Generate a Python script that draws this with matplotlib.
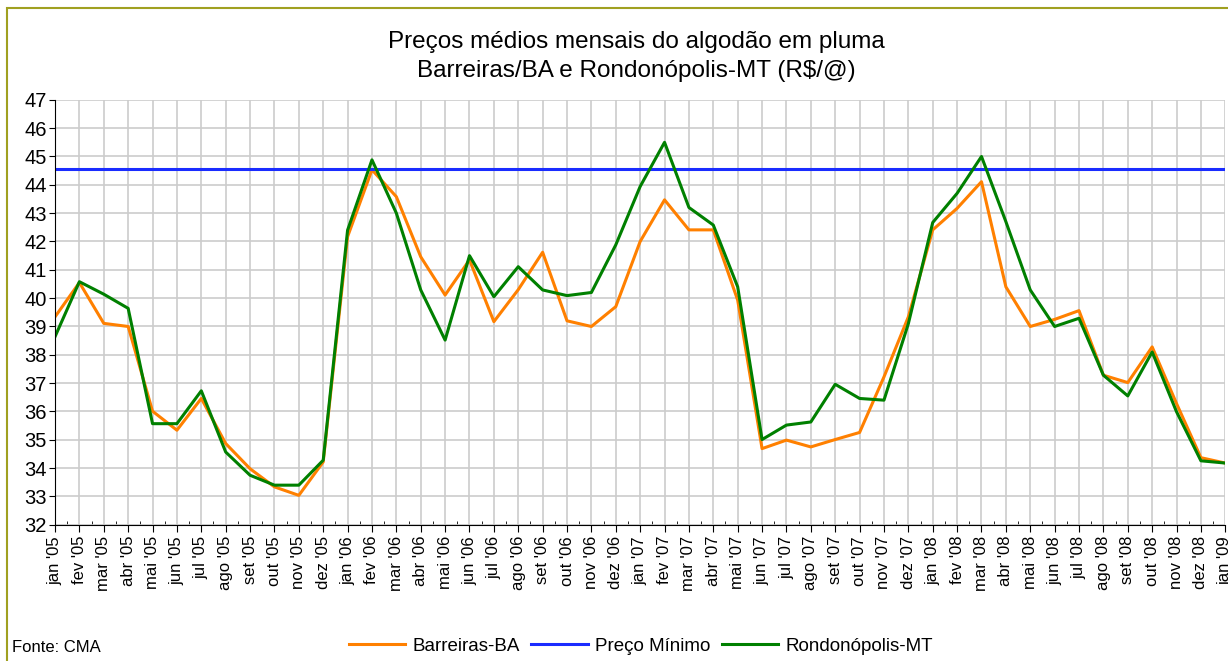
import numpy as np
import matplotlib.pyplot as plt
from matplotlib.patches import Rectangle

plt.rcParams['font.family'] = ['Liberation Sans', 'DejaVu Sans']

meses = ['jan', 'fev', 'mar', 'abr', 'mai', 'jun', 'jul', 'ago', 'set', 'out', 'nov', 'dez']
labels = [f"{m} '{a:02d}" for a in range(5, 9) for m in meses] + ["jan '09"]

barreiras = [39.34, 40.55, 39.11, 39.0, 36.01, 35.34, 36.46, 34.87, 33.98, 33.34, 33.04, 34.22,
             42.17, 44.53, 43.58, 41.46, 40.11, 41.35, 39.17, 40.3, 41.62, 39.2, 39.0, 39.7,
             42.0, 43.47, 42.41, 42.41, 39.93, 34.69, 34.99, 34.75, 35.01, 35.26, 37.22, 39.34,
             42.41, 43.17, 44.11, 40.4, 39.0, 39.25, 39.56, 37.28, 37.02, 38.28, 36.28, 34.37,
             34.18]
rondonopolis = [38.64, 40.58, 40.14, 39.64, 35.57, 35.57, 36.73, 34.57, 33.75, 33.4, 33.4, 34.28,
                42.4, 44.88, 43.0, 40.29, 38.52, 41.5, 40.05, 41.11, 40.29, 40.09, 40.2, 41.88,
                43.94, 45.5, 43.2, 42.58, 40.4, 35.01, 35.52, 35.63, 36.96, 36.46, 36.4, 39.1,
                42.67, 43.7, 45.0, 42.7, 40.29, 39.0, 39.29, 37.28, 36.55, 38.1, 35.99, 34.26,
                34.18]
preco_minimo = [44.57] * len(labels)

x = np.arange(len(labels))

fig = plt.figure(figsize=(12.28, 6.61), dpi=100)
ax = fig.add_axes([0.0448, 0.206, 0.953, 0.643])

ax.plot(x, barreiras, color='#ff8000', lw=2.2, label='Barreiras-BA')
ax.plot(x, preco_minimo, color='#1a2cff', lw=2.2, label='Preço Mínimo')
ax.plot(x, rondonopolis, color='#008000', lw=2.2, label='Rondonópolis-MT')

ax.set_xlim(0, len(labels) - 1)
ax.set_ylim(32, 47)
ax.set_yticks(range(32, 48))
ax.set_xticks(x)
ax.set_xticklabels(labels, rotation=90, fontsize=12)
ax.set_xticks(x[:-1] + 0.5, minor=True)
ax.tick_params(axis='y', labelsize=14.5, direction='out', length=4, pad=2)
ax.tick_params(axis='x', which='major', direction='out', length=5, pad=3)
ax.tick_params(axis='x', which='minor', direction='in', length=3)
ax.grid(True, color='#cccccc', lw=1.2)
ax.set_axisbelow(True)
for s in ['top', 'right']:
    ax.spines[s].set_visible(False)

fig.text(0.518, 0.937, 'Preços médios mensais do algodão em pluma', ha='center', va='center', fontsize=17.5)
fig.text(0.518, 0.892, 'Barreiras/BA e Rondonópolis-MT (R$/@)', ha='center', va='center', fontsize=17.5)
fig.text(0.01, 0.02, 'Fonte: CMA', fontsize=12, ha='left', va='center')

fig.legend(loc='center', bbox_to_anchor=(0.522, 0.022), ncol=3, frameon=False, fontsize=13.5,
           handlelength=3.0, columnspacing=0.6, handletextpad=0.4)

fig.patches.append(Rectangle((0.006, -0.1), 1.5, 1.088, transform=fig.transFigure,
                             fill=False, edgecolor='#a0a020', lw=1.5))

fig.savefig('out.png', dpi=100)
